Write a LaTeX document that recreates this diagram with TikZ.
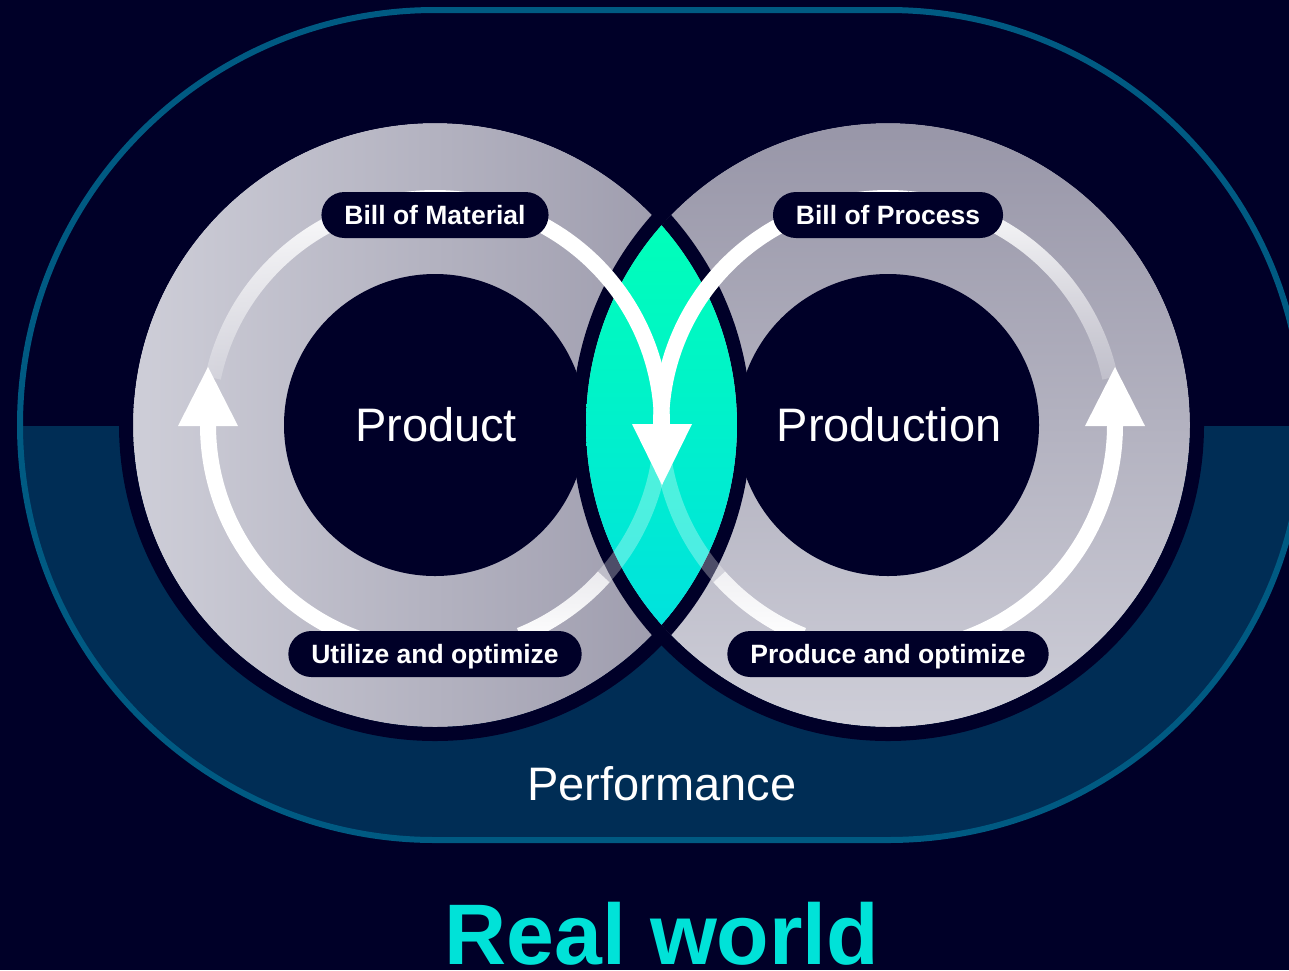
\documentclass[tikz,border=0pt]{standalone}
\usepackage{fontspec}
\setmainfont{Liberation Sans}
\usetikzlibrary{fadings}
\definecolor{bgnavy}{RGB}{0,0,40}
\definecolor{band}{RGB}{0,45,85}
\definecolor{rim}{RGB}{0,90,130}
\definecolor{ringLight}{RGB}{206,206,216}
\definecolor{ringDark}{RGB}{152,150,168}
\definecolor{lensTop}{RGB}{0,255,185}
\definecolor{lensBot}{RGB}{0,226,222}
\definecolor{realC}{RGB}{0,226,216}
\tikzfading[name=fadeUp, top color=transparent!0, bottom color=transparent!100]
\tikzfading[name=fadeLow, top color=transparent!70, bottom color=transparent!0]
\begin{document}
\begin{tikzpicture}[x=1pt,y=-1pt,
  pill/.style={fill=bgnavy, text=white, rounded corners=23pt, minimum height=46pt,
    inner xsep=23pt, inner ysep=0pt, text height=18.8pt, text depth=0pt,
    font=\fontsize{26.5}{28}\selectfont\bfseries},
  bigtext/.style={text=white, font=\fontsize{47}{50}\selectfont, inner sep=0pt, anchor=base},
  arrowline/.style={white, line width=16pt},
  arrowtip/.style={fill=white},
  ringrim/.style={draw=bgnavy, line width=14pt}]
\useasboundingbox (0,0) rectangle (1289,970);
\fill[bgnavy] (0,0) rectangle (1289,970);
\coordinate (L) at (435,425);
\coordinate (R) at (888,425);
% stadium
\begin{scope}
  \clip (435,10) -- (888,10) arc[start angle=-90, end angle=90, radius=415]
        -- (435,840) arc[start angle=90, end angle=270, radius=415] -- cycle;
  \fill[band] (0,426) rectangle (1400,900);
\end{scope}
\draw[rim, line width=6pt] (435,10) -- (888,10) arc[start angle=-90, end angle=90, radius=415]
        -- (435,840) arc[start angle=90, end angle=270, radius=415] -- cycle;
% rings
\shade[left color=ringLight, right color=ringDark] (L) circle[radius=302];
\draw[ringrim] (L) circle[radius=309];
\shade[top color=ringDark, bottom color=ringLight] (R) circle[radius=302];
\draw[ringrim] (R) circle[radius=309];
\begin{scope}
  \clip (R) circle[radius=302];
  \draw[ringrim] (L) circle[radius=309];
\end{scope}
% lens
\begin{scope}
  \clip (L) circle[radius=302];
  \clip (R) circle[radius=302];
  \shade[top color=lensTop, bottom color=lensBot] (580,222) rectangle (745,628);
\end{scope}
% holes
\fill[bgnavy] (L) circle[radius=151];
\fill[bgnavy] (R) circle[radius=151];
\node[bigtext] (prod) at (436,441) {Product};
\node[bigtext] (prodn) at (889,441) {Production};
\node[bigtext] (perf) at (662,800) {Performance};
\node[text=realC, font=\fontsize{86}{90}\selectfont\bfseries, inner sep=0pt, anchor=base] (rw) at (662,964) {Real world};
% faint / fading arcs
\draw[arrowline, path fading=fadeUp] (L) ++(-168:227) arc[start angle=-168, end angle=-95, radius=227];
\draw[arrowline, path fading=fadeUp] (R) ++(-85:227) arc[start angle=-85, end angle=-12, radius=227];
\draw[arrowline, path fading=fadeLow] (L) ++(68:227) arc[start angle=68, end angle=42, radius=227];
\draw[arrowline, opacity=0.3] (L) ++(42:227) arc[start angle=42, end angle=1, radius=227];
\draw[arrowline, path fading=fadeLow] (R) ++(112:227) arc[start angle=112, end angle=138, radius=227];
\draw[arrowline, opacity=0.3] (R) ++(138:227) arc[start angle=138, end angle=179, radius=227];
% solid arcs
\draw[arrowline] (L) ++(-95:227) arc[start angle=-95, end angle=0, radius=227];
\draw[arrowline] (R) ++(-85:227) arc[start angle=-85, end angle=-180, radius=227];
\draw[arrowline] (L) ++(180:227) arc[start angle=180, end angle=110, radius=227];
\draw[arrowline] (R) ++(0:227) arc[start angle=0, end angle=70, radius=227];
% arrowheads
\fill[arrowtip] (178,426) -- (238,426) -- (208,367) -- cycle;
\fill[arrowtip] (1085,426) -- (1145,426) -- (1115,367) -- cycle;
\fill[arrowtip] (632,424) -- (692,424) -- (662,485) -- cycle;
% labels
\node[pill] (bom) at (435,215) {Bill of Material};
\node[pill] (bop) at (888,215) {Bill of Process};
\node[pill] (uao) at (435,654) {Utilize and optimize};
\node[pill] (pao) at (888,654) {Produce and optimize};
\end{tikzpicture}
\end{document}
